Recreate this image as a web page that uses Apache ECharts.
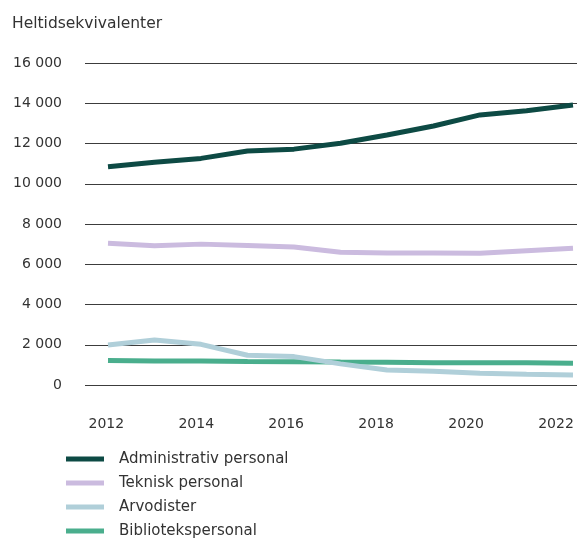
<!DOCTYPE html>
<html>
<head>
<meta charset="utf-8">
<script src="https://cdn.jsdelivr.net/npm/echarts@6/dist/echarts.min.js"></script>
<style>html,body{margin:0;padding:0;background:#fff}#c{width:577px;height:540px}</style>
</head>
<body>
<div id="c"></div>
<script>
const years = [2012, 2013, 2014, 2015, 2016, 2017, 2018, 2019, 2020, 2021, 2022];
const xTickLabels = [2012, 2014, 2016, 2018, 2020, 2022];
const yTicks = [0, 2000, 4000, 6000, 8000, 10000, 12000, 14000, 16000];
const seriesNames = ['Administrativ personal', 'Teknisk personal', 'Arvodister', 'Bibliotekspersonal'];
const administrativ = [10850, 11070, 11260, 11630, 11720, 12010, 12420, 12870, 13420, 13630, 13910];
const teknisk = [7040, 6920, 7000, 6930, 6860, 6600, 6560, 6560, 6550, 6670, 6790];
const arvodister = [1990, 2240, 2020, 1480, 1410, 1050, 750, 680, 580, 530, 500];
const bibliotek = [1220, 1190, 1190, 1170, 1160, 1140, 1130, 1110, 1110, 1100, 1080];
const colors = ['#0d4a44', '#cbbbdf', '#b0cfd9', '#4aae8d'];

const pairs = arr => years.map((y, i) => [y, arr[i]]);
const fmtThousands = v => String(v).replace(/\B(?=(\d{3})+(?!\d))/g, ' ');
const font = 'DejaVu Sans';

const chart = echarts.init(document.getElementById('c'), null, {renderer: 'canvas'});
chart.setOption({
  animation: false,
  backgroundColor: '#fff',
  title: {
    text: 'Heltidsekvivalenter', left: 12, top: 16, padding: 0,
    textStyle: {fontFamily: font, fontSize: 15.5, fontWeight: 'normal', color: '#333'}
  },
  legend: {
    orient: 'vertical', left: 66, top: 451, bottom: 0, padding: 0, itemGap: 8,
    itemWidth: 38, itemHeight: 5, icon: 'rect',
    data: seriesNames,
    textStyle: {fontFamily: font, fontSize: 15, color: '#333', lineHeight: 16, padding: [0, 0, 0, 10]}
  },
  grid: {left: 85, right: 0, top: 63, bottom: 155},
  xAxis: [
    {
      type: 'value', min: 2011.5054, max: 2022.086, show: false
    },
    {
      type: 'value', min: 2011.526, max: 2022.467, position: 'bottom',
      axisLine: {show: false}, axisTick: {show: false}, splitLine: {show: false},
      axisLabel: {
        customValues: xTickLabels, margin: 32,
        formatter: v => String(v),
        fontFamily: font, fontSize: 14, color: '#333'
      }
    }
  ],
  yAxis: {
    type: 'value', min: yTicks[0], max: yTicks[yTicks.length - 1], interval: 2000,
    axisLine: {show: false}, axisTick: {show: false},
    splitLine: {show: true, lineStyle: {color: '#3c3c3c', width: 1}},
    axisLabel: {margin: 23, formatter: fmtThousands, fontFamily: font, fontSize: 14, color: '#333'}
  },
  series: [
    {name: seriesNames[0], type: 'line', xAxisIndex: 0, data: pairs(administrativ), symbol: 'none', z: 4,
     lineStyle: {width: 5, color: colors[0]}, itemStyle: {color: colors[0]}},
    {name: seriesNames[1], type: 'line', xAxisIndex: 0, data: pairs(teknisk), symbol: 'none', z: 2,
     lineStyle: {width: 5, color: colors[1]}, itemStyle: {color: colors[1]}},
    {name: seriesNames[2], type: 'line', xAxisIndex: 0, data: pairs(arvodister), symbol: 'none', z: 3,
     lineStyle: {width: 5, color: colors[2]}, itemStyle: {color: colors[2]}},
    {name: seriesNames[3], type: 'line', xAxisIndex: 0, data: pairs(bibliotek), symbol: 'none', z: 2,
     lineStyle: {width: 5, color: colors[3]}, itemStyle: {color: colors[3]}}
  ]
});
</script>
</body>
</html>
